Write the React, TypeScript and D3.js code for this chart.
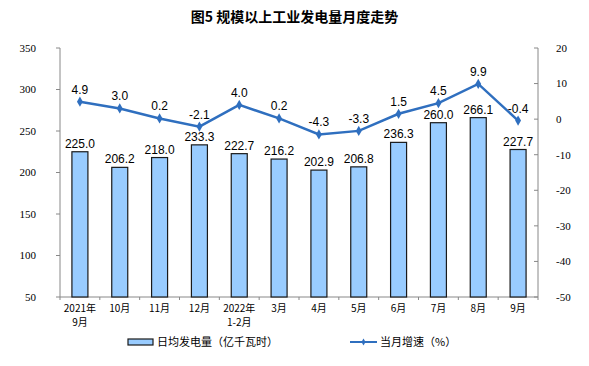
import React from 'react';
import * as d3 from 'd3';

const months = ['2021年|9月', '10月', '11月', '12月', '2022年|1-2月', '3月', '4月', '5月', '6月', '7月', '8月', '9月'];
const dailyOutput = [225.0, 206.2, 218.0, 233.3, 222.7, 216.2, 202.9, 206.8, 236.3, 260.0, 266.1, 227.7];
const growth = [4.9, 3.0, 0.2, -2.1, 4.0, 0.2, -4.3, -3.3, 1.5, 4.5, 9.9, -0.4];
const leftTicks = [50, 100, 150, 200, 250, 300, 350];
const rightTicks = [-50, -40, -30, -20, -10, 0, 10, 20];

const W = 589;
const H = 366;
const margin = { top: 48, right: 51, bottom: 69, left: 60 };
const numFont = '"Liberation Serif", "Times New Roman", serif';
const cjkFont = '"Noto Sans CJK SC", sans-serif';
const labelFont = '"Liberation Sans", Arial, sans-serif';
const blue = '#2f6fbf';

const App = () => {
  const x0 = margin.left;
  const x1 = W - margin.right;
  const y1 = H - margin.bottom;

  const x = d3.scaleBand<number>().domain(d3.range(months.length)).range([x0, x1]).padding(0);
  const yL = d3.scaleLinear().domain([50, 350]).range([y1, margin.top]);
  const yR = d3.scaleLinear().domain([-50, 20]).range([y1, margin.top]);
  const cx = (i: number) => (x(i) as number) + x.bandwidth() / 2;
  const barW = 16;

  const line = d3
    .line<number>()
    .x((d, i) => cx(i))
    .y((d) => yR(d));

  const diamond = d3.symbol().type(d3.symbolDiamond).size(30)();

  return (
    <svg width={W} height={H} style={{ position: 'absolute', left: 0, top: 0, background: '#fff' }}>
      <text x={W / 2} y={22} textAnchor="middle" fontFamily={cjkFont} fontWeight="bold" fontSize={14} fill="#000">
        图5  规模以上工业发电量月度走势
      </text>

      {/* left axis */}
      <line x1={x0} x2={x0} y1={margin.top} y2={y1} stroke="#888" />
      {leftTicks.map((t) => (
        <g key={'l' + t}>
          <line x1={x0 - 4} x2={x0} y1={yL(t)} y2={yL(t)} stroke="#888" />
          <text x={x0 - 24} y={yL(t)} dy="0.35em" textAnchor="end" fontFamily={numFont} fontSize={11} fill="#000">
            {t}
          </text>
        </g>
      ))}

      {/* right axis */}
      <line x1={x1} x2={x1} y1={margin.top} y2={y1} stroke="#888" />
      {rightTicks.map((t) => (
        <g key={'r' + t}>
          <line x1={x1 - 4} x2={x1} y1={yR(t)} y2={yR(t)} stroke="#888" />
          <text x={x1 + 18} y={yR(t)} dy="0.35em" textAnchor="start" fontFamily={numFont} fontSize={11} fill="#000">
            {t}
          </text>
        </g>
      ))}

      {/* bottom axis */}
      <line x1={x0} x2={x1} y1={y1} y2={y1} stroke="#888" />
      {d3.range(months.length + 1).map((i) => {
        const xx = x0 + i * x.bandwidth();
        return <line key={'t' + i} x1={xx} x2={xx} y1={y1} y2={y1 + 3} stroke="#888" />;
      })}
      {months.map((m, i) =>
        m.split('|').map((part, k) => (
          <text
            key={m + k}
            x={cx(i)}
            y={y1 + 15 + k * 14}
            textAnchor="middle"
            fontFamily={cjkFont}
            fontSize={10}
            fill="#000"
          >
            {part}
          </text>
        ))
      )}

      {/* bars */}
      {dailyOutput.map((v, i) => (
        <g key={'b' + i}>
          <rect
            x={cx(i) - barW / 2}
            y={yL(v)}
            width={barW}
            height={y1 - yL(v)}
            fill="#99ccff"
            stroke="#1a1a1a"
            strokeWidth={1.2}
          />
          <text x={cx(i)} y={yL(v) - 4} textAnchor="middle" fontFamily={labelFont} fontSize={12} fill="#000">
            {v.toFixed(1)}
          </text>
        </g>
      ))}

      {/* line */}
      <path d={line(growth) || ''} fill="none" stroke={blue} strokeWidth={2.5} />
      {growth.map((v, i) => (
        <g key={'p' + i}>
          <path d={diamond || ''} transform={`translate(${cx(i)},${yR(v)})`} fill={blue} />
          <text x={cx(i)} y={yR(v) - 8} textAnchor="middle" fontFamily={labelFont} fontSize={12} fill="#000">
            {v.toFixed(1)}
          </text>
        </g>
      ))}

      {/* legend */}
      <rect x={128} y={339} width={25} height={6} fill="#99ccff" stroke="#1a1a1a" strokeWidth={1.2} />
      <text x={157} y={342} dy="0.35em" fontFamily={cjkFont} fontSize={11} fill="#000">
        日均发电量（亿千瓦时）
      </text>
      <line x1={350} x2={377} y1={342} y2={342} stroke={blue} strokeWidth={2} />
      <path d={d3.symbol().type(d3.symbolDiamond).size(14)() || ''} transform="translate(363.5,342)" fill={blue} />
      <text x={380} y={342} dy="0.35em" fontFamily={cjkFont} fontSize={11} fill="#000">
        当月增速（%）
      </text>
    </svg>
  );
};

export default App;
